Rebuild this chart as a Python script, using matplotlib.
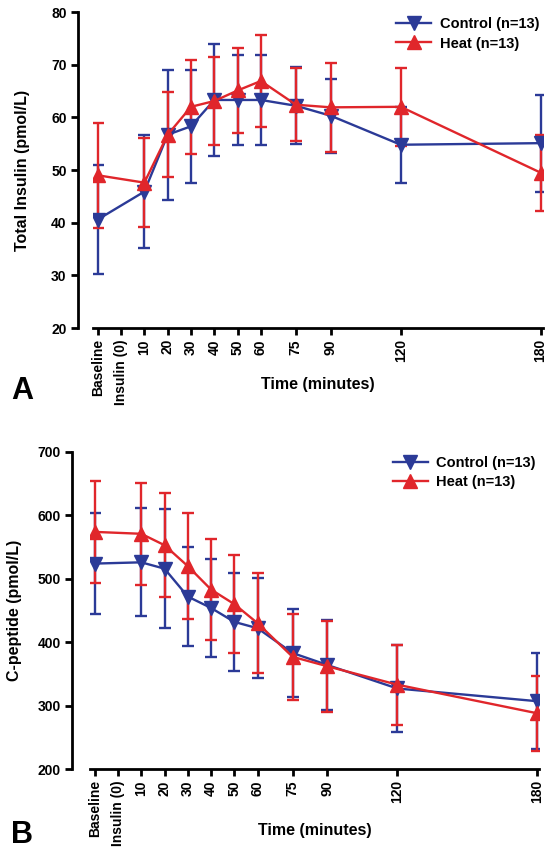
import numpy as np
import matplotlib.pyplot as plt
from matplotlib.lines import Line2D

plt.rcParams['font.family'] = ['Liberation Sans', 'DejaVu Sans']
plt.rcParams['font.weight'] = 'bold'

# time points (Baseline plotted at -10, Insulin (0) at 0)
times = [-10, 10, 20, 30, 40, 50, 60, 75, 90, 120, 180]
tick_pos = [-10, 0, 10, 20, 30, 40, 50, 60, 75, 90, 120, 180]
tick_lab = ['Baseline', 'Insulin (0)', '10', '20', '30', '40', '50', '60', '75', '90', '120', '180']

# panel A: total insulin (pmol/L), mean and SEM
ins_ctrl = [40.6, 45.9, 56.7, 58.3, 63.3, 63.3, 63.3, 62.2, 60.3, 54.8, 55.1]
ins_ctrl_err = [10.3, 10.8, 12.3, 10.7, 10.7, 8.5, 8.6, 7.3, 7.0, 7.2, 9.2]
ins_heat = [49.0, 47.6, 56.7, 62.0, 63.1, 65.1, 66.9, 62.4, 61.9, 62.0, 49.5]
ins_heat_err = [10.0, 8.4, 8.1, 8.9, 8.4, 8.1, 8.7, 6.9, 8.4, 7.4, 7.2]

# panel B: C-peptide (pmol/L)
cp_ctrl = [524, 526, 516, 472, 454, 432, 422, 383, 364, 327, 307]
cp_ctrl_err = [79, 85, 94, 78, 78, 77, 79, 70, 71, 69, 76]
cp_heat = [574, 571, 553, 520, 483, 460, 430, 377, 362, 333, 288]
cp_heat_err = [81, 80, 82, 84, 80, 77, 79, 68, 72, 63, 59]

blue = '#2B3A97'
red = '#E0262B'

fig = plt.figure(figsize=(5.54, 8.58), dpi=100)
axA = fig.add_axes([0.168, 0.6177, 0.812, 0.3683])
axB = fig.add_axes([0.1625, 0.1037, 0.811, 0.3695])


def draw(ax, ctrl, ctrl_err, heat, heat_err, ylim, yticks, ylabel, offset, ylpad, xly, legy):
    ax.errorbar(times, ctrl, yerr=ctrl_err, color=blue, marker='v', markersize=10,
                lw=1.7, elinewidth=1.7, capsize=4, capthick=1.7)
    ax.errorbar(times, heat, yerr=heat_err, color=red, marker='^', markersize=10,
                lw=1.7, elinewidth=1.7, capsize=4, capthick=1.7)
    ax.set_xlim(-12, 181)
    ax.set_ylim(*ylim)
    ax.set_yticks(yticks)
    ax.set_xticks(tick_pos)
    ax.set_xticklabels(tick_lab, rotation=90, fontsize=10, fontweight='bold')
    for lab in ax.get_yticklabels():
        lab.set_fontsize(10.5)
        lab.set_fontweight('bold')
    ax.spines['top'].set_visible(False)
    ax.spines['right'].set_visible(False)
    ax.spines['left'].set_position(('outward', offset))
    ax.spines['left'].set_linewidth(2)
    ax.spines['bottom'].set_linewidth(2)
    ax.tick_params(width=2, length=5, pad=3)
    ax.set_ylabel(ylabel, fontsize=11.5, fontweight='bold', labelpad=ylpad)
    ax.set_xlabel('Time (minutes)', fontsize=11.5, fontweight='bold')
    ax.xaxis.set_label_coords(0.5, xly)
    handles = [Line2D([], [], color=blue, marker='v', markersize=10, lw=1.7),
               Line2D([], [], color=red, marker='^', markersize=10, lw=1.7)]
    leg = ax.legend(handles, ['Control (n=13)', 'Heat (n=13)'], loc='upper right',
                    bbox_to_anchor=(1.015, legy), frameon=False, fontsize=10.5,
                    handlelength=2.4, borderaxespad=0.3, labelspacing=0.35,
                    handletextpad=0.6)
    for t in leg.get_texts():
        t.set_fontweight('bold')


draw(axA, ins_ctrl, ins_ctrl_err, ins_heat, ins_heat_err, (20, 80),
     np.arange(20, 81, 10), 'Total Insulin (pmol/L)', 11, 15, -0.155, 1.015)
draw(axB, cp_ctrl, cp_ctrl_err, cp_heat, cp_heat_err, (200, 700),
     np.arange(200, 701, 100), 'C-peptide (pmol/L)', 13, 11, -0.17, 1.02)

fig.text(0.02, 0.535, 'A', fontsize=22, fontweight='bold')
fig.text(0.02, 0.018, 'B', fontsize=22, fontweight='bold')

fig.savefig('out.png', dpi=100)
